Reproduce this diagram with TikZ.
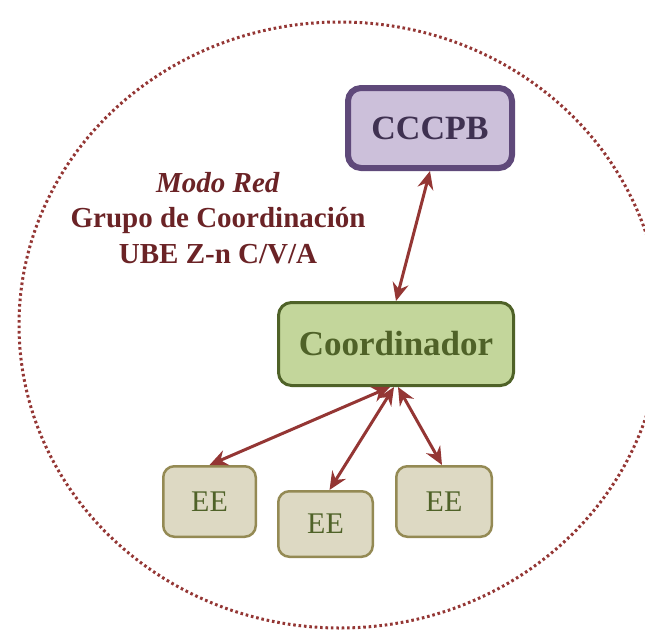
\documentclass[tikz,border=0pt]{standalone}
\usepackage{fontspec}
\setmainfont{Liberation Serif}
\usepackage{tikz}
\usetikzlibrary{arrows.meta}
\definecolor{redline}{HTML}{943634}
\definecolor{redtext}{HTML}{6B2326}
\definecolor{lilafill}{HTML}{CCC0DA}
\definecolor{lilaline}{HTML}{5F497A}
\definecolor{lilatext}{HTML}{3F3151}
\definecolor{greenfill}{HTML}{C3D69B}
\definecolor{greenline}{HTML}{4F6228}
\definecolor{eefill}{HTML}{DDD9C3}
\definecolor{eeline}{HTML}{948A54}
\tikzset{
  box/.style={rounded corners=13pt, align=center, inner sep=0pt},
  top/.style={box, draw=lilaline, fill=lilafill, line width=6pt, text=lilatext,
    minimum width=164pt, minimum height=80pt, font=\fontsize{34}{40}\selectfont\bfseries},
  coord/.style={box, draw=greenline, fill=greenfill, line width=3pt, text=greenline,
    minimum width=235pt, minimum height=83pt, font=\fontsize{35}{40}\selectfont\bfseries},
  ee/.style={box, rounded corners=11pt, draw=eeline, fill=eefill, line width=2.5pt, text=greenline,
    minimum height=70.5pt, font=\fontsize{30}{34}\selectfont},
  link/.style={redline, line width=3pt, {Stealth[length=18pt,width=16pt,inset=6pt]}-{Stealth[length=18pt,width=16pt,inset=6pt]}}
}
\begin{document}
\begin{tikzpicture}[x=1pt,y=-1pt]
\useasboundingbox (0,0) rectangle (645,630);
\begin{scope}
\clip (0,0) rectangle (645,630);
\draw[redline, line width=3pt, dash pattern=on 2.6pt off 2.8pt] (340,325) ellipse [x radius=321, y radius=303];
\end{scope}
\node[align=center, text=redtext, font=\fontsize{29}{35.5}\selectfont\bfseries] (title) at (218,218)
  {\textit{Modo Red}\\Grupo de Coordinación\\UBE Z-n C/V/A};
\node[top] (cccpb) at (430,128) {CCCPB};
\node[coord] (coordinador) at (396,344) {Coordinador};
\node[ee, minimum width=92.5pt] (ee1) at (209.5,501.5) {EE};
\node[ee, minimum width=94.5pt, minimum height=65.5pt] (ee2) at (325.5,524) {\raisebox{-4pt}{EE}};
\node[ee, minimum width=95.5pt] (ee3) at (444,501.5) {EE};
\draw[link] (cccpb.south) -- (coordinador.north);
\draw[link] ([xshift=-6pt]coordinador.south) -- (ee1.north);
\draw[link] ([xshift=-2pt]coordinador.south) -- ([xshift=4pt]ee2.north);
\draw[link] ([xshift=2pt]coordinador.south) -- ([xshift=-2pt]ee3.north);
\end{tikzpicture}
\end{document}
